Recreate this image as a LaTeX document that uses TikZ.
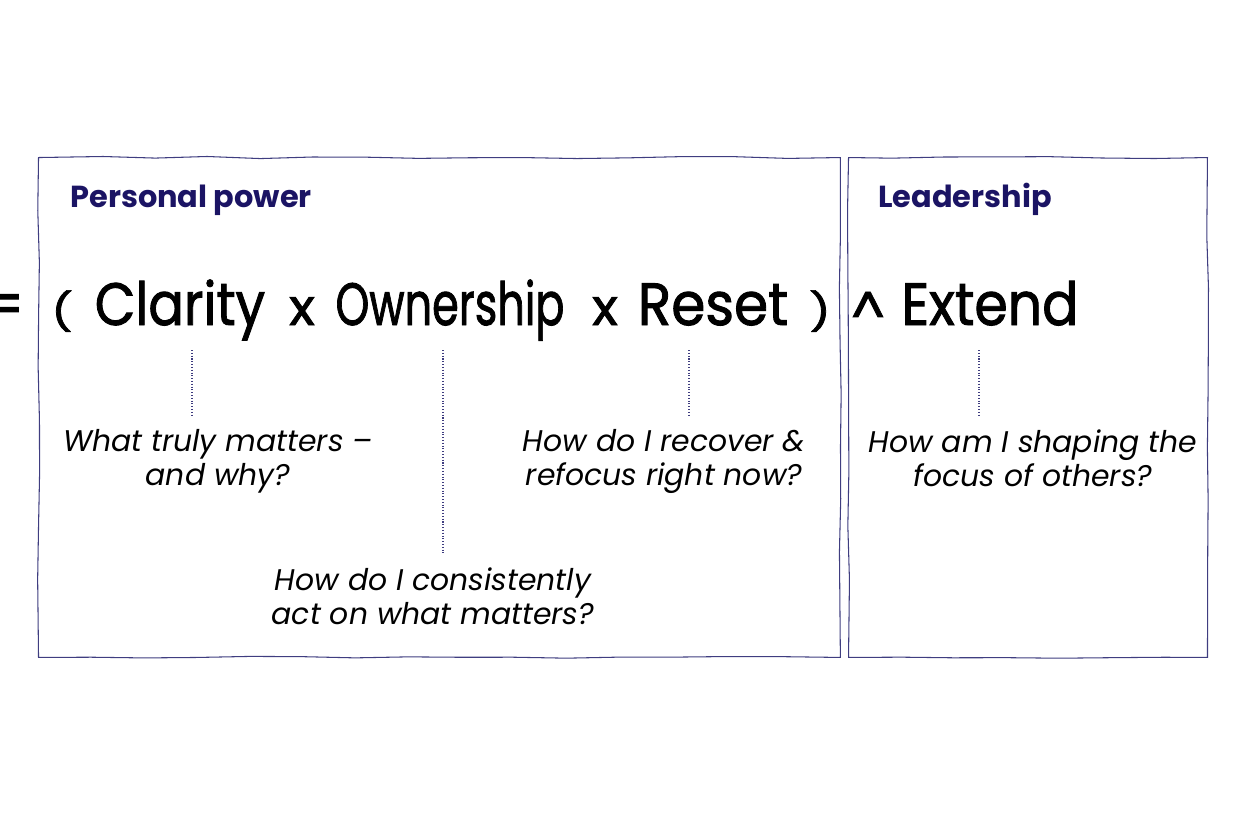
\documentclass[tikz,border=0pt]{standalone}
\usepackage{fontspec}
\setmainfont{Poppins}
\newfontfamily\handfont[FakeBold=1.6]{Poppins}
\usetikzlibrary{decorations.pathmorphing}
\definecolor{navy}{HTML}{1B1464}
\definecolor{inkline}{HTML}{3F3D80}
\begin{document}
\begin{tikzpicture}[x=0.02cm, y=-0.02cm]
\tikzstyle{panel}=[draw=inkline, line width=0.6pt, inner sep=0pt, anchor=north west, decorate, decoration={random steps, segment length=30pt, amplitude=0.6pt}]
\tikzstyle{title}=[font=\bfseries\fontsize{17.3}{20}\selectfont, text=navy, inner sep=0pt, anchor=base west]
\tikzstyle{hand}=[font=\handfont\fontsize{34}{34}\selectfont, inner sep=0pt, anchor=base]
\tikzstyle{quest}=[font=\itshape\fontsize{17}{19.5}\selectfont, align=center, inner sep=0pt, outer sep=7pt, anchor=north]
\tikzstyle{link}=[draw=inkline, densely dotted, line width=0.6pt]
\pgfmathsetseed{7}
\useasboundingbox (0,0) rectangle (1250,833);
% the two panels
\node[panel, minimum width=16.04cm, minimum height=10cm] (ppbox) at (38,157) {};
\node[panel, minimum width=7.18cm, minimum height=10cm] (ldbox) at (848,157) {};
\node[title] (pptitle) at (70,207) {Personal power};
\node[title] (ldtitle) at (878,207) {Leadership};
% the formula
\foreach \xx/\tok/\nm/\sx/\sy in {6/=/eq/0.8/1, 62/(/lp/0.8/0.62, 180/Clarity/clar/0.88/1, 302/x/tone/0.9/0.85, 450/Ownership/own/0.72/1, 605/x/ttwo/0.9/0.85, 713/Reset/reset/0.92/1, 820/)/rp/0.8/0.62, 868/\textasciicircum/hat/0.9/0.8, 990/Extend/ext/0.9/1}
  \node[hand, xscale=\sx, yscale=\sy] (\nm) at (\xx,325) {\tok};
% the questions
\node[quest] (qclar) at (218,417) {What truly matters --\\and why?};
\node[quest] (qown) at (433,555) {How do I consistently\\act on what matters?};
\node[quest] (qreset) at (664,417) {How do I recover \&\\refocus right now?};
\node[quest] (qext) at (1033,417) {How am I shaping the\\focus of others?};
\coordinate (cclar) at (192,350);
\coordinate (cown) at (443,350);
\coordinate (creset) at (689,350);
\coordinate (cext) at (979,350);
\draw[link] (cclar) -- (cclar |- qclar.north);
\draw[link] (cown) -- (cown |- qown.north);
\draw[link] (creset) -- (creset |- qreset.north);
\draw[link] (cext) -- (cext |- qext.north);
\end{tikzpicture}
\end{document}
